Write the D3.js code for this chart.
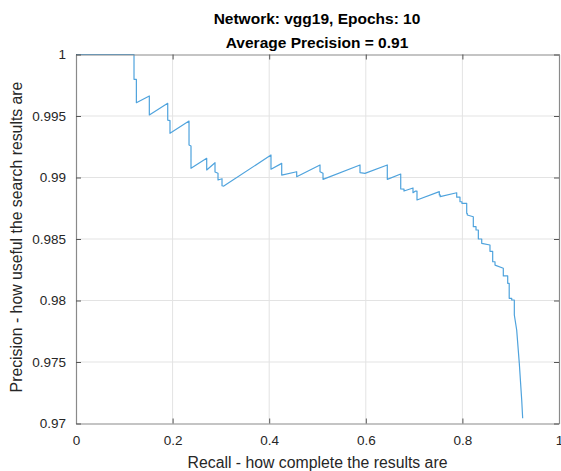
<!DOCTYPE html>
<html>
<head>
<meta charset="utf-8">
<script src="https://cdn.jsdelivr.net/npm/d3@7"></script>
<style>
  html, body { margin: 0; padding: 0; background: #fff; }
  svg { display: block; font-family: "Liberation Sans", Arial, Helvetica, sans-serif; }
</style>
</head>
<body>
<svg id="chart" width="561" height="471"></svg>
<script>
// ---- data ----
const titleLines = ["Network: vgg19, Epochs: 10", "Average Precision = 0.91"];
const xLabel = "Recall - how complete the results are";
const yLabel = "Precision - how useful the search results are";
const xTicks = [0, 0.2, 0.4, 0.6, 0.8, 1];
const xTickLabels = ["0", "0.2", "0.4", "0.6", "0.8", "1"];
const yTicks = [0.97, 0.975, 0.98, 0.985, 0.99, 0.995, 1];
const yTickLabels = ["0.97", "0.975", "0.98", "0.985", "0.99", "0.995", "1"];

const recall = [
  0, 0.1201, 0.1201, 0.1250, 0.1250, 0.1518, 0.1518, 0.1899, 0.1899, 0.1946, 0.1946,
  0.2340, 0.2340, 0.2381, 0.2381, 0.2706, 0.2706, 0.2878, 0.2878, 0.2940, 0.2940,
  0.3023, 0.3023, 0.3060, 0.4037, 0.4037, 0.4259, 0.4259, 0.4569, 0.4569, 0.5052,
  0.5052, 0.5114, 0.5114, 0.5880, 0.5880, 0.5983, 0.6445, 0.6445, 0.6723, 0.6723,
  0.6791, 0.6791, 0.6977, 0.6977, 0.7030, 0.7060, 0.7060, 0.7522, 0.7522, 0.7540,
  0.7540, 0.7882, 0.7882, 0.7950, 0.7950, 0.7990, 0.7990, 0.8089, 0.8089, 0.8101,
  0.8101, 0.8226, 0.8226, 0.8282, 0.8282, 0.8330, 0.8330, 0.8400, 0.8400, 0.8571,
  0.8571, 0.8627, 0.8627, 0.8675, 0.8675, 0.8847, 0.8847, 0.8938, 0.8938, 0.8969,
  0.8969, 0.9021, 0.9021, 0.9075, 0.9075, 0.9124, 0.9178, 0.9228, 0.9248
];
const precision = [
  1, 1, 0.99798, 0.99798, 0.99608, 0.99663, 0.99508, 0.99603, 0.99467, 0.99463, 0.99359,
  0.99459, 0.99264, 0.99256, 0.99075, 0.99156, 0.99061, 0.99120, 0.99045, 0.99035, 0.98980,
  0.98990, 0.98933, 0.98930, 0.99183, 0.99067, 0.99115, 0.99020, 0.99047, 0.99006, 0.99102,
  0.99047, 0.99034, 0.98985, 0.99102, 0.99040, 0.99034, 0.99102, 0.98985, 0.99028, 0.98907,
  0.98906, 0.98890, 0.98915, 0.98876, 0.98890, 0.98890, 0.98817, 0.98885, 0.98858, 0.98858,
  0.98844, 0.98876, 0.98840, 0.98840, 0.98803, 0.98803, 0.98790, 0.98790, 0.98709, 0.98709,
  0.98695, 0.98681, 0.98600, 0.98600, 0.98573, 0.98573, 0.98500, 0.98500, 0.98465, 0.98451,
  0.98400, 0.98400, 0.98315, 0.98315, 0.98288, 0.98262, 0.98200, 0.98200, 0.98140, 0.98140,
  0.98018, 0.98018, 0.98004, 0.98004, 0.97882, 0.97760, 0.97490, 0.97191, 0.97042
];

// ---- layout ----
const svg = d3.select("#chart");
const L = 76, R = 559, T = 54.5, B = 423.5;
const x = d3.scaleLinear().domain([0, 1]).range([L, R]);
const y = d3.scaleLinear().domain([0.97, 1]).range([B, T]);
const labelColor = "#262626";

// grid
const grid = svg.append("g");
grid.selectAll("line.gx").data(xTicks.slice(1, -1)).join("line")
  .attr("x1", d => x(d)).attr("x2", d => x(d)).attr("y1", T).attr("y2", B)
  .attr("stroke", "#e3e3e3").attr("stroke-width", 1);
grid.selectAll("line.gy").data(yTicks.slice(1, -1)).join("line")
  .attr("y1", d => y(d)).attr("y2", d => y(d)).attr("x1", L).attr("x2", R)
  .attr("stroke", "#e3e3e3").attr("stroke-width", 1);

// data line
const pts = recall.map((r, i) => [r, precision[i]]);
svg.append("path")
  .datum(pts)
  .attr("fill", "none")
  .attr("stroke", "#4fa3dd")
  .attr("stroke-width", 1.2)
  .attr("stroke-linejoin", "round")
  .attr("d", d3.line().x(d => x(d[0])).y(d => y(d[1])));

// axes (ticks inward, MATLAB style)
const xAxisB = d3.axisBottom(x).tickValues(xTicks).tickFormat((d, i) => xTickLabels[i]).tickSizeInner(-5).tickSizeOuter(0).tickPadding(12);
const xAxisT = d3.axisTop(x).tickValues(xTicks).tickFormat("").tickSizeInner(-5).tickSizeOuter(0);
const yAxisL = d3.axisLeft(y).tickValues(yTicks).tickFormat((d, i) => yTickLabels[i]).tickSizeInner(-5).tickSizeOuter(0).tickPadding(10);
const yAxisR = d3.axisRight(y).tickValues(yTicks).tickFormat("").tickSizeInner(-5).tickSizeOuter(0);

function styleAxis(g) {
  g.selectAll("path.domain").attr("stroke", "#8a8a8a").attr("stroke-width", 1.2);
  g.selectAll(".tick line").attr("stroke", "#555");
  g.selectAll(".tick text").attr("fill", labelColor).attr("font-size", 13.5)
    .attr("font-family", "'Liberation Sans', Arial, Helvetica, sans-serif");
}
svg.append("g").attr("transform", `translate(0,${B})`).call(xAxisB).call(styleAxis);
svg.append("g").attr("transform", `translate(0,${T})`).call(xAxisT).call(styleAxis);
svg.append("g").attr("transform", `translate(${L},0)`).call(yAxisL).call(styleAxis);
svg.append("g").attr("transform", `translate(${R},0)`).call(yAxisR).call(styleAxis);

// title
svg.append("text").attr("x", (L + R) / 2 - 0.5).attr("y", 23.5).attr("text-anchor", "middle")
  .attr("font-size", 15.5).attr("font-weight", "bold").attr("fill", "#000").text(titleLines[0]);
svg.append("text").attr("x", (L + R) / 2 - 0.5).attr("y", 47.5).attr("text-anchor", "middle")
  .attr("font-size", 15.5).attr("font-weight", "bold").attr("fill", "#000").text(titleLines[1]);

// axis labels
svg.append("text").attr("x", (L + R) / 2).attr("y", 468).attr("text-anchor", "middle")
  .attr("font-size", 15.8).attr("fill", labelColor).text(xLabel);
svg.append("text").attr("transform", `translate(22,${(T + B) / 2 - 2}) rotate(-90)`).attr("text-anchor", "middle")
  .attr("font-size", 15.8).attr("fill", labelColor).text(yLabel);
</script>
</body>
</html>
